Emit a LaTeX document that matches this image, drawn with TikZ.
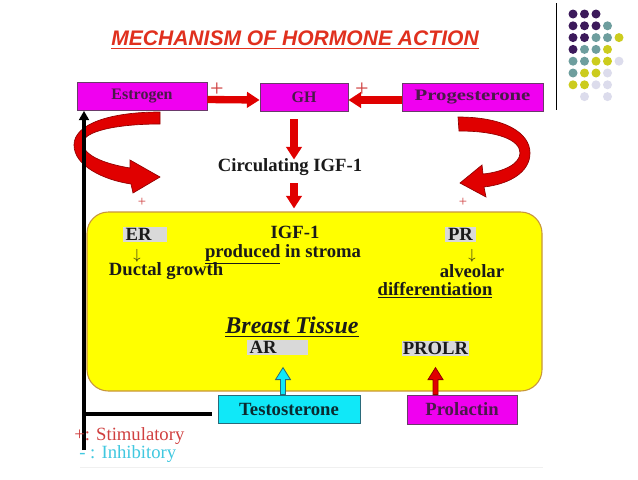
\documentclass[tikz,border=0pt]{standalone}
\usepackage{fontspec}
\setmainfont{Liberation Serif}
\newfontfamily\titlefont{Liberation Sans}
\usetikzlibrary{arrows.meta,calc}

\definecolor{boxmagenta}{HTML}{F000F0}
\definecolor{boxline}{HTML}{6A3A6A}
\definecolor{boxtext}{HTML}{4A1A4A}
\definecolor{testofill}{HTML}{10E8F8}
\definecolor{testoline}{HTML}{2A6A7A}
\definecolor{testotext}{HTML}{0A2A30}
\definecolor{tissueyellow}{HTML}{FFFF00}
\definecolor{tissueline}{HTML}{C8963C}
\definecolor{tissuetextcol}{HTML}{1A1A1A}
\definecolor{arrowred}{HTML}{E00000}
\definecolor{arrowdark}{HTML}{900000}
\definecolor{labelgrey}{HTML}{D9D9D9}
\definecolor{titlered}{HTML}{E0301E}
\definecolor{plusred}{HTML}{D04040}
\definecolor{inhibcyan}{HTML}{40C8E0}
\definecolor{dotpurple}{HTML}{3C1A5B}
\definecolor{dotteal}{HTML}{6E9E9E}
\definecolor{dotyellow}{HTML}{CCCC1E}
\definecolor{dotlavender}{HTML}{DCDCEC}

\tikzset{
  uparrow/.pic={
    \filldraw (-2.5,0) -- (-2.5,-15) -- (-7.5,-15) -- (0,-27) -- (7.5,-15) -- (2.5,-15) -- (2.5,0) -- cycle;
  }
}

\begin{document}
\begin{tikzpicture}[x=0.75pt,y=-0.75pt,
  hormone/.style={draw=boxline, fill=boxmagenta, text=boxtext, line width=0.6pt,
    font=\fontsize{12}{14}\selectfont\bfseries, inner sep=0pt, minimum height=21pt},
  testobox/.style={hormone, fill=testofill, draw=testoline, text=testotext},
  tissue/.style={draw=tissueline, fill=tissueyellow, line width=0.8pt, rounded corners=16pt,
    minimum width=341.25pt, minimum height=134.25pt},
  tissuetext/.style={text=tissuetextcol, font=\fontsize{14}{16}\selectfont\bfseries, inner sep=0.5pt},
  receptor/.style={tissuetext, fill=labelgrey, inner xsep=2pt, inner ysep=0.5pt,
    text height=9.5pt, text depth=0.5pt},
  downsign/.style={text=tissuetextcol, font=\fontsize{11}{11}\selectfont, inner sep=0pt},
  redarrow/.style={draw=arrowred, line width=5.5pt, -{Triangle[length=9.5pt,width=11.5pt]}},
  curvearrow/.style={fill=arrowred, draw=arrowdark, line width=0.5pt},
  inhline/.style={draw=black, line width=3pt},
  plus/.style={text=plusred, font=\fontsize{18}{18}\selectfont, inner sep=0pt},
  smallplus/.style={text=plusred, font=\fontsize{11}{11}\selectfont, inner sep=0pt},
  legend/.style={font=\fontsize{14}{16}\selectfont, inner sep=0pt, anchor=west},
  dot/.style={radius=4.5}]

\fill[white] (0,0) rectangle (638,479);
\useasboundingbox (0,0) rectangle (638,479);

% title and corner decoration
\node[text=titlered, font=\titlefont\fontsize{15.8}{18}\selectfont\bfseries\itshape] (title) at (295,40)
  {\underline{MECHANISM OF HORMONE ACTION}};
\draw[line width=0.6pt] (556,3) -- (556,110);
\foreach \c/\r/\col in {1/1/dotpurple, 2/1/dotpurple, 3/1/dotpurple,
    1/2/dotpurple, 2/2/dotpurple, 3/2/dotpurple, 4/2/dotteal,
    1/3/dotpurple, 2/3/dotpurple, 3/3/dotteal, 4/3/dotteal, 5/3/dotyellow,
    1/4/dotpurple, 2/4/dotteal, 3/4/dotteal, 4/4/dotyellow,
    1/5/dotteal, 2/5/dotteal, 3/5/dotyellow, 4/5/dotyellow, 5/5/dotlavender,
    1/6/dotteal, 2/6/dotyellow, 3/6/dotyellow, 4/6/dotlavender,
    1/7/dotyellow, 2/7/dotyellow, 3/7/dotlavender, 4/7/dotlavender,
    2/8/dotlavender, 4/8/dotlavender}
  \fill[\col] (561.5+11.5*\c, 2.2+11.8*\r) circle[dot];

% hormones
\node[hormone, minimum width=97.5pt] (estrogen) at (142,96.5) {Estrogen};
\node[hormone, minimum width=66pt] (gh) at (304,97) {GH};
\node[hormone, minimum width=105.75pt] (prog) at (472.5,97) {\scalebox{1.3}[1]{Progesterone}};
\node[tissuetext] (circ) at (290,167) {Circulating IGF-1};

\draw[redarrow] ([shift={(0,3)}]estrogen.east) -- ([shift={(0,3)}]gh.west);
\draw[redarrow] ([shift={(0,3)}]prog.west) -- ([shift={(0,3)}]gh.east);
\node[plus] (plusest) at (217,90) {+};
\node[plus] (plusprog) at (362,90) {+};
\draw[redarrow, shorten <=6pt] ($(gh.south)+(-10,0)$) -- ($(circ.north)+(4,2)$);

% curved arrows
\filldraw[curvearrow] (160,112) .. controls (110,112) and (74,124) .. (74,145)
  .. controls (74,166) and (104,180) .. (131,184)
  -- (133,193) -- (160,177) -- (130,160) -- (130,168)
  .. controls (100,163) and (83,154) .. (83,143)
  .. controls (83,131) and (118,124) .. (160,124) -- cycle;
\filldraw[curvearrow] (458,117) .. controls (505,117) and (530,133) .. (530,153)
  .. controls (530,172) and (510,184) .. (484,187)
  -- (486,197) -- (460,183) -- (482,165) -- (483,174)
  .. controls (503,172) and (520,164) .. (520,153)
  .. controls (520,140) and (498,131) .. (459,131) -- cycle;
\node[smallplus] (plusleft) at (142,202) {+};
\node[smallplus] (plusright) at (463,202) {+};

% breast tissue
\node[tissue] (tissue) at (314.5,301.5) {};
\draw[redarrow, shorten <=5pt] ($(circ.south)+(4,0)$) -- ($(tissue.north)+(-20.5,-3)$);

\node[receptor, text width=29pt, align=left] (er) at (145,234.5) {ER};
\node[downsign] (erdown) at (137,256) {$\downarrow$};
\node[tissuetext, anchor=west] (ductal) at (108,271) {Ductal growth};
\node[tissuetext] (igf) at (295,232) {IGF-1};
\node[tissuetext] (stroma) at (283,254) {\underline{produced} in stroma};
\node[receptor] (pr) at (460.5,234.5) {PR};
\node[downsign] (prdown) at (472,256) {$\downarrow$};
\node[tissuetext, anchor=east] (alveolar) at (505,271) {alveolar};
\node[tissuetext] (diff) at (435,290) {\underline{differentiation}};
\node[tissuetext, font=\fontsize{18}{20}\selectfont\bfseries\itshape] (breast) at (292,327) {\underline{Breast Tissue}};
\node[receptor, text width=41.75pt, align=left] (ar) at (277.5,347.5) {AR};
\node[receptor, inner xsep=0.5pt] (prolr) at (435.5,348.5) {PROLR};

% lower hormones
\node[testobox, minimum width=106.5pt, font=\fontsize{14}{16}\selectfont\bfseries] (testo) at (289,409) {Testosterone};
\node[hormone, minimum width=82.5pt, minimum height=21.75pt, font=\fontsize{14}{16}\selectfont\bfseries] (prl) at (462,409.5) {Prolactin};
\pic[fill=testofill, draw=testoline, line width=0.6pt] at ([shift={(-6,0)}]testo.north) {uparrow};
\pic[fill=arrowred, draw=arrowdark, line width=0.6pt] at (prolr.south |- prl.north) {uparrow};

% inhibitory feedback line
\coordinate (inhbase) at (84,450);
\coordinate (inhcorner) at ([shift={(-6,5)}]testo.west);
\draw[inhline] (inhcorner) -- (inhcorner -| inhbase);
\draw[inhline, -{Triangle[length=7pt,width=7.5pt]}] (inhbase) -- (inhbase |- estrogen.south);

% legend
\node[legend, text=plusred] (stim) at (74,436) {+: Stimulatory};
\node[legend, text=inhibcyan] (inhib) at (79,454) {- : Inhibitory};
\draw[gray!12] (80,467) -- (543,467);

\end{tikzpicture}
\end{document}
